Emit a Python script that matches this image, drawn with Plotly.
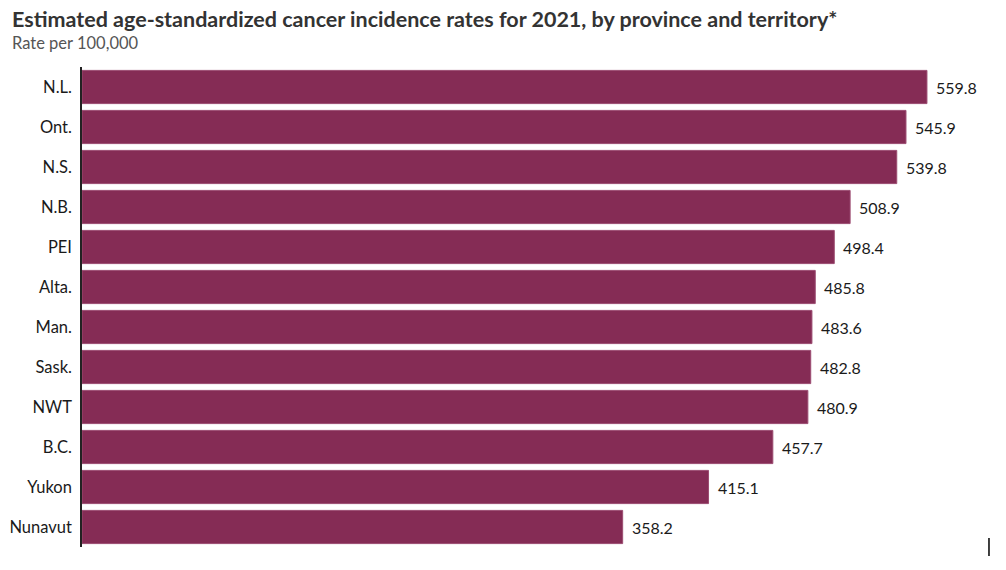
import plotly.graph_objects as go

provinces = ["N.L.", "Ont.", "N.S.", "N.B.", "PEI", "Alta.", "Man.", "Sask.", "NWT", "B.C.", "Yukon", "Nunavut"]
rates = [559.8, 545.9, 539.8, 508.9, 498.4, 485.8, 483.6, 482.8, 480.9, 457.7, 415.1, 358.2]
labels = [f"{v:.1f}" for v in rates]

FONT = "Lato, Open Sans, sans-serif"
BAR = "#852C55"

fig = go.Figure(go.Bar(
    x=rates, y=provinces, orientation="h",
    marker=dict(color=BAR, line=dict(color="#9b4c71", width=1)),
    hoverinfo="x+y",
))

anns = []
for v, p, t in zip(rates, provinces, labels):
    anns.append(dict(x=v, y=p, text=t, showarrow=False, xanchor="left",
                     xshift=7, font=dict(family=FONT, size=16, color="#1a1a1a")))

anns.append(dict(
    text="<b>Estimated age-standardized cancer incidence rates for 2021, by province and territory*</b>",
    xref="paper", yref="paper", x=-0.078, y=1.099, xanchor="left", yanchor="middle",
    showarrow=False, font=dict(family=FONT, size=21.5, color="#333333")))
anns.append(dict(
    text="Rate per 100,000", xref="paper", yref="paper", x=-0.078, y=1.050,
    xanchor="left", yanchor="middle", showarrow=False,
    font=dict(family=FONT, size=16.5, color="#555555")))

fig.add_shape(type="line", xref="paper", yref="paper", x0=0.988, x1=0.988,
              y0=0.019, y1=-0.019, line=dict(color="black", width=1.5))

fig.update_layout(
    width=1006, height=570,
    margin=dict(l=74, r=14, t=59, b=31),
    paper_bgcolor="white", plot_bgcolor="white",
    bargap=0.17,
    showlegend=False,
    annotations=anns,
    xaxis=dict(range=[0, 608.2], visible=False, fixedrange=True, automargin=False),
    yaxis=dict(autorange="reversed", showline=True, linecolor="#222222", linewidth=1.5,
               showgrid=False, zeroline=False, ticks="", ticklabelstandoff=5,
               automargin=False,
               tickfont=dict(family=FONT, size=16.5, color="#1a1a1a")),
)

fig.write_html("out.html")
